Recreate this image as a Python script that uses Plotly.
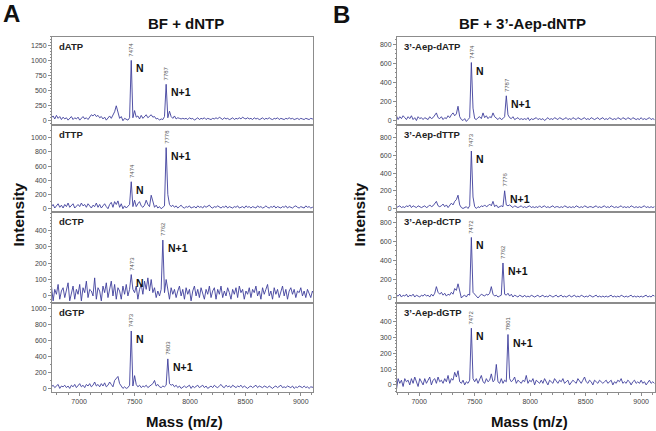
import plotly.graph_objects as go

# ---------------- data ----------------
MASS = [
    6750, 6765, 6780, 6795, 6810, 6825, 6840, 6855, 6870, 6885,
    6900, 6915, 6930, 6945, 6960, 6975, 6990, 7005, 7020, 7035,
    7050, 7065, 7080, 7095, 7110, 7125, 7140, 7155, 7170, 7185,
    7200, 7215, 7230, 7245, 7260, 7275, 7290, 7305, 7320, 7335,
    7350, 7365, 7380, 7395, 7410, 7425, 7440, 7455, 7470, 7485,
    7500, 7515, 7530, 7545, 7560, 7575, 7590, 7605, 7620, 7635,
    7650, 7665, 7680, 7695, 7710, 7725, 7740, 7755, 7770, 7785,
    7800, 7815, 7830, 7845, 7860, 7875, 7890, 7905, 7920, 7935,
    7950, 7965, 7980, 7995, 8010, 8025, 8040, 8055, 8070, 8085,
    8100, 8115, 8130, 8145, 8160, 8175, 8190, 8205, 8220, 8235,
    8250, 8265, 8280, 8295, 8310, 8325, 8340, 8355, 8370, 8385,
    8400, 8415, 8430, 8445, 8460, 8475, 8490, 8505, 8520, 8535,
    8550, 8565, 8580, 8595, 8610, 8625, 8640, 8655, 8670, 8685,
    8700, 8715, 8730, 8745, 8760, 8775, 8790, 8805, 8820, 8835,
    8850, 8865, 8880, 8895, 8910, 8925, 8940, 8955, 8970, 8985,
    9000, 9015, 9030, 9045, 9060, 9075, 9090, 9105, 9120,
]

A_DATP = [
    40, 70, 20, 80, 30, 60, 10, 50, 20, 40,
    0, 30, 60, 10, 40, 20, 50, 0, 30, 60,
    20, 40, 10, 50, 90, 70, 100, 60, 80, 40,
    60, 20, 50, 0, 40, 70, 30, 90, 140, 240,
    120, 30, 60, -10, 30, 10, 0, 40, 1000, 40,
    160, 50, 70, 20, 80, 30, 60, 90, 40, 70,
    90, 50, 60, 20, 30, 0, 20, 10, 60, 600,
    40, 150, 60, 30, 70, 20, 40, 30, 20, 30,
    20, 30, 10, 40, 20, 30, 0, 20, 40, 10,
    30, 20, 40, 10, 30, 20, 10, 30, 20, 40,
    20, 50, 30, 10, 40, 20, 30, 10, 20, 40,
    10, 30, 20, 40, 20, 50, 30, 20, 40, 20,
    30, 10, 40, 20, 30, 10, 20, 40, 10, 30,
    20, 40, 20, 10, 30, 20, 40, 10, 30, 20,
    10, 30, 20, 40, 20, 30, 10, 20, 30, 10,
    30, 20, 10, 30, 20, 10, 30, 20, 40,
]
A_DTTP = [
    30, 60, 10, 40, 70, 20, 50, 10, 60, 30,
    80, 20, 50, 70, 10, 40, 60, 30, 80, 40,
    60, 20, 70, 40, 10, 50, 30, 80, 20, 60,
    10, 40, 70, 30, 0, 60, 90, 20, 100, 60,
    110, 20, 70, 0, 40, 10, 30, 60, 380, 30,
    120, 30, 70, 100, 40, 20, 50, 120, 60, 30,
    190, 80, 20, 50, 10, 30, 0, 20, 40, 860,
    200, 60, 30, 50, 20, 40, 10, 30, 50, 20,
    10, 30, 20, 40, 10, 20, 30, 10, 40, 20,
    30, 10, 40, 20, 30, 50, 20, 10, 30, 20,
    40, 20, 10, 30, 20, 40, 10, 30, 20, 10,
    30, 20, 40, 10, 20, 30, 10, 40, 20, 30,
    10, 30, 20, 10, 40, 20, 30, 10, 20, 40,
    20, 10, 30, 20, 40, 10, 30, 20, 10, 30,
    20, 40, 10, 30, 20, 10, 30, 40, 20, 10,
    30, 20, 10, 40, 20, 30, 10, 20, 30,
]
A_DCTP = [
    60, -30, 40, 10, 70, -20, 30, 50, -10, 40,
    80, -30, 20, 60, -20, 40, 10, 70, -30, 50,
    20, 90, -10, 40, 30, 0, 110, -20, 50, 30,
    -30, 60, 20, 80, -10, 40, 90, 0, 70, -20,
    50, 30, -20, 60, 10, 70, 0, 40, 130, 40,
    20, 60, -20, 40, 70, 10, 90, 40, 110, 30,
    100, 20, 50, -10, 30, 0, 40, 340, 20, 100,
    30, -20, 50, 10, 40, -10, 30, 60, 0, 40,
    -20, 50, 10, 40, -30, 30, 60, 0, 40, -10,
    50, 20, -20, 40, 10, 60, -10, 30, 50, -20,
    40, 10, 60, -10, 30, 0, 50, 20, -20, 40,
    10, 50, -10, 60, 20, 40, -20, 30, 10, 50,
    -10, 40, 20, 60, 0, 30, -20, 50, 10, 40,
    70, 0, 30, -20, 50, 10, 40, -10, 30, 60,
    0, 40, -20, 30, 50, 10, 40, -10, 30, 20,
    50, 0, 30, -10, 40, 20, -10, 30, 10,
]
A_DGTP = [
    20, 40, 10, 30, 50, 0, 30, 20, 40, 10,
    30, 0, 40, 20, 50, 10, 30, 60, 20, 40,
    10, 50, 30, 60, 20, 40, 80, 30, 50, 20,
    60, 30, 70, 20, 40, 80, 50, 20, 100, 130,
    150, 60, 30, 0, 20, 0, 10, 40, 720, 30,
    160, 50, 20, 40, 10, 30, 20, 40, 10, 30,
    40, 60, 100, 30, 50, 20, 10, 30, 20, 40,
    370, 60, 40, 50, 20, 40, 10, 30, 0, 20,
    30, 10, 20, 40, 0, 30, 10, 20, 40, 10,
    20, 40, 10, 30, 0, 20, 30, 10, 40, 20,
    10, 30, 50, 20, 10, 40, 20, 30, 10, 40,
    20, 10, 30, 20, 40, 10, 30, 20, 0, 20,
    30, 10, 20, 40, 10, 30, 20, 10, 30, 20,
    10, 30, 20, 0, 20, 30, 10, 20, 40, 10,
    20, 10, 30, 20, 10, 30, 0, 20, 10, 30,
    20, 10, 30, 10, 20, 0, 20, 10, 10,
]
B_DATP = [
    20, 40, 30, 50, 10, 40, 20, 50, 30, 10,
    40, 20, 50, 10, 30, 0, 40, 20, 30, 10,
    30, 20, 10, 40, 20, 30, 50, 80, 30, 20,
    40, 10, 30, 20, 50, 30, 60, 80, 50, 70,
    150, 40, 10, 0, 20, -10, 10, 30, 610, 130,
    20, 10, 30, 40, 20, 80, 30, 50, 20, 40,
    30, 80, 40, 20, 10, 30, 10, 20, 40, 260,
    60, 30, 20, 40, 10, 20, 30, 10, 20, 10,
    20, 10, 30, 0, 20, 10, 20, 30, 10, 20,
    10, 20, 0, 20, 30, 10, 20, 10, 30, 20,
    10, 30, 20, 10, 20, 30, 10, 20, 10, 30,
    20, 10, 30, 20, 10, 20, 30, 10, 20, 10,
    30, 20, 10, 20, 30, 10, 20, 30, 10, 20,
    10, 30, 20, 10, 20, 10, 30, 20, 10, 30,
    20, 10, 30, 20, 10, 30, 20, 10, 20, 10,
    30, 10, 20, 10, 20, 30, 10, 20, 10,
]
B_DTTP = [
    20, 10, 30, 10, 20, 30, 10, 20, 10, 30,
    20, 40, 10, 30, 20, 10, 30, 20, 10, 20,
    30, 10, 20, 40, 20, 30, 60, 80, 30, 20,
    30, 50, 20, 40, 10, 30, 60, 40, 80, 100,
    150, 40, 10, 0, 10, 20, 0, 30, 650, 130,
    20, 0, 20, 10, 30, 20, 40, 20, 30, 50,
    30, 80, 20, 40, 10, 20, 30, 20, 200, 40,
    30, 40, 20, 10, 30, 20, 10, 20, 30, 10,
    20, 10, 20, 30, 10, 20, 10, 20, 10, 30,
    10, 20, 30, 10, 20, 10, 20, 30, 10, 20,
    20, 10, 20, 10, 30, 20, 10, 20, 10, 20,
    10, 30, 20, 10, 20, 10, 30, 20, 10, 20,
    20, 10, 20, 30, 10, 20, 10, 20, 30, 10,
    20, 10, 30, 20, 10, 20, 10, 20, 30, 10,
    20, 10, 20, 10, 30, 20, 10, 20, 10, 20,
    10, 20, 30, 10, 20, 10, 20, 10, 20,
]
B_DCTP = [
    40, 60, 10, 30, 20, 40, 10, 30, 20, 40,
    10, 30, 20, 40, 10, 30, 20, 10, 30, 20,
    40, 20, 30, 10, 40, 20, 50, 120, 60, 40,
    60, 30, 50, 20, 40, 30, 60, 40, 100, 80,
    150, 60, 0, 20, 30, 10, 40, 30, 640, 60,
    40, 10, 0, 20, 40, 30, 20, 40, 30, 50,
    120, 40, 20, 30, 10, 20, 30, 370, 40, 30,
    50, 20, 40, 10, 30, 20, 10, 30, 20, 10,
    30, 10, 20, 10, 30, 20, 10, 20, 30, 10,
    20, 30, 10, 20, 10, 30, 20, 10, 20, 30,
    10, 20, 30, 10, 20, 10, 20, 30, 10, 20,
    30, 10, 20, 10, 30, 20, 10, 20, 10, 30,
    20, 10, 20, 30, 10, 20, 10, 20, 10, 20,
    10, 20, 30, 10, 20, 10, 20, 10, 30, 20,
    10, 20, 10, 20, 30, 10, 20, 10, 20, 10,
    20, 10, 20, 30, 10, 20, 10, 30, 20,
]
B_DGTP = [
    30, 50, 40, -30, 40, 10, 30, -10, 40, 20,
    30, 0, 40, 10, 50, 20, -10, 40, 20, 0,
    40, 10, 30, 50, 0, 30, 40, 10, 50, 20,
    30, 10, 40, 20, 60, 10, 40, 30, 80, 50,
    90, 20, 10, 30, 0, 20, 10, 30, 360, 40,
    20, 40, 10, 30, 60, 20, 10, 40, 20, 30,
    70, 20, 30, 130, 20, 10, 40, 10, 30, 20,
    320, 40, 20, 30, 50, 10, 30, 20, 10, 30,
    20, 60, 10, 30, 20, 40, 0, 30, 20, 10,
    30, 10, 40, 20, 0, 30, 20, 10, 40, 20,
    10, 30, 20, 40, 10, 20, 30, 0, 20, 30,
    20, 10, 40, 20, 10, 30, 50, 20, 10, 30,
    20, 0, 30, 20, 10, 30, 20, 10, 20, 30,
    10, 20, 30, 0, 20, 10, 30, 20, 40, 10,
    20, 10, 30, 20, 0, 20, 30, 10, 20, 10,
    30, 10, 20, 0, 20, 30, 10, 20, 10,
]

# y tick labels per subplot
TICKS_1250 = [0, 250, 500, 750, 1000, 1250]
TICKS_1000 = [0, 200, 400, 600, 800, 1000]
TICKS_800 = [0, 200, 400, 600, 800]
TICKS_400 = [0, 100, 200, 300, 400]
X_TICKS = [7000, 7500, 8000, 8500, 9000]

# peak annotations: (label mass, mass text, ion label)
PEAKS_A_DATP = [(7474, "7474", "N"), (7787, "7787", "N+1")]
PEAKS_A_DTTP = [(7474, "7474", "N"), (7778, "7778", "N+1")]
PEAKS_A_DCTP = [(7473, "7473", "N"), (7762, "7762", "N+1")]
PEAKS_A_DGTP = [(7473, "7473", "N"), (7803, "7803", "N+1")]
PEAKS_B_DATP = [(7474, "7474", "N"), (7787, "7787", "N+1")]
PEAKS_B_DTTP = [(7473, "7473", "N"), (7776, "7776", "N+1")]
PEAKS_B_DCTP = [(7472, "7472", "N"), (7762, "7762", "N+1")]
PEAKS_B_DGTP = [(7472, "7472", "N"), (7801, "7801", "N+1")]

# ---------------- layout / styles ----------------
FONT = "Liberation Sans, Arial, sans-serif"
LINE = "#3e3e9c"
AXC = "#8c8c8c"
W, H = 656, 431
PANEL_PX = {"A": (52, 313), "B": (397, 655)}
X_RANGE = {"A": [6755, 9110], "B": [6800, 9125]}
ROW_PX = [36.5, 124.5, 212, 303, 392]

SERIES = [
    ("A", 0, "dATP", A_DATP, [-73, 1400], TICKS_1250, 50, PEAKS_A_DATP),
    ("A", 1, "dTTP", A_DTTP, [-46, 1186], TICKS_1000, 100, PEAKS_A_DTTP),
    ("A", 2, "dCTP", A_DCTP, [-43, 511], TICKS_400, 20, PEAKS_A_DCTP),
    ("A", 3, "dGTP", A_DGTP, [-45, 1071], TICKS_1000, 100, PEAKS_A_DGTP),
    ("B", 0, "3\u2019-Aep-dATP", B_DATP, [-42, 884], TICKS_800, 50, PEAKS_B_DATP),
    ("B", 1, "3\u2019-Aep-dTTP", B_DTTP, [-40, 950], TICKS_800, 50, PEAKS_B_DTTP),
    ("B", 2, "3\u2019-Aep-dCTP", B_DCTP, [-53, 909], TICKS_800, 50, PEAKS_B_DCTP),
    ("B", 3, "3\u2019-Aep-dGTP", B_DGTP, [-45, 520], TICKS_400, 20, PEAKS_B_DGTP),
]

for s in SERIES:
    assert len(s[3]) == len(MASS), (s[2], len(s[3]))

fig = go.Figure()
layout = dict(
    width=W, height=H, margin=dict(l=0, r=0, t=0, b=0),
    paper_bgcolor="white", plot_bgcolor="white", showlegend=False,
    font=dict(family=FONT, color="#333"),
)
annotations = []

for k, (panel, row, name, vals, yr, tv, mdt, peaks) in enumerate(SERIES):
    n = k + 1
    xs = "x" if n == 1 else f"x{n}"
    ys = "y" if n == 1 else f"y{n}"
    xa = "xaxis" if n == 1 else f"xaxis{n}"
    ya = "yaxis" if n == 1 else f"yaxis{n}"
    fig.add_trace(go.Scatter(x=MASS, y=vals, mode="lines", xaxis=xs, yaxis=ys,
                             line=dict(color=LINE, width=0.9), hoverinfo="skip"))
    x0, x1 = PANEL_PX[panel]
    bottom = row == 3
    layout[xa] = dict(
        domain=[x0 / W, x1 / W], anchor=ys, range=X_RANGE[panel],
        showline=True, mirror=True, linecolor=AXC, linewidth=1,
        showgrid=False, zeroline=False,
        tickmode="array", tickvals=X_TICKS if bottom else [],
        showticklabels=bottom, ticks="outside" if bottom else "",
        ticklen=3, tickcolor=AXC, tickfont=dict(size=7, color="#444"),
        minor=dict(dtick=100, tick0=7000, ticks="outside" if bottom else "",
                   ticklen=2, tickcolor=AXC, showgrid=False),
    )
    layout[ya] = dict(
        domain=[1 - ROW_PX[row + 1] / H, 1 - ROW_PX[row] / H], anchor=xs, range=yr,
        showline=True, mirror=True, linecolor=AXC, linewidth=1,
        showgrid=False, zeroline=False,
        tickmode="array", tickvals=tv, ticks="outside", ticklen=3, tickcolor=AXC,
        tickfont=dict(size=7, color="#444"),
        minor=dict(dtick=mdt, tick0=0, ticks="outside", ticklen=1.5, tickcolor=AXC,
                   showgrid=False),
    )
    annotations.append(dict(
        text=f"<b>{name}</b>", xref=f"{xs} domain", yref=f"{ys} domain",
        x=0, y=1, xanchor="left", yanchor="top", xshift=5, yshift=-2,
        showarrow=False, font=dict(size=9.5, color="#222", family=FONT)))
    for pm, ptxt, ion in peaks:
        idx = min(range(len(MASS)), key=lambda i: abs(MASS[i] - pm))
        px, py = MASS[idx], vals[idx]
        annotations.append(dict(
            text=ptxt, x=px, y=py, xref=xs, yref=ys, textangle=-90,
            xanchor="center", yanchor="bottom", yshift=2, showarrow=False,
            font=dict(size=6, color="#555", family=FONT)))
        annotations.append(dict(
            text=f"<b>{ion}</b>", x=px, y=py, xref=xs, yref=ys,
            xanchor="left", yanchor="top", xshift=3, yshift=0, showarrow=False,
            font=dict(size=10.5, color="#111", family=FONT)))

def paper(px, py):
    return px / W, 1 - py / H

for txt, (cx, cy), size, ang in [
    ("A", (11, 14), 24, 0),
    ("B", (341, 14.5), 24, 0),
    ("BF + dNTP", (186, 23), 15, 0),
    ("BF + 3\u2019-Aep-dNTP", (522.5, 23.5), 15, 0),
    ("Intensity", (17.5, 215), 15.5, -90),
    ("Intensity", (358.5, 215), 15.5, -90),
    ("Mass (m/z)", (184, 421), 15, 0),
    ("Mass (m/z)", (529, 421), 15, 0),
]:
    px_, py_ = paper(cx, cy)
    annotations.append(dict(
        text=f"<b>{txt}</b>", x=px_, y=py_, xref="paper", yref="paper",
        xanchor="center", yanchor="middle", textangle=ang, showarrow=False,
        font=dict(size=size, color="#111", family=FONT)))

layout["annotations"] = annotations
fig.update_layout(**layout)
fig.write_html(
    "out.html",
    config={"displayModeBar": False},
    post_script="document.body.style.margin='0';document.body.style.overflow='hidden';",
)
